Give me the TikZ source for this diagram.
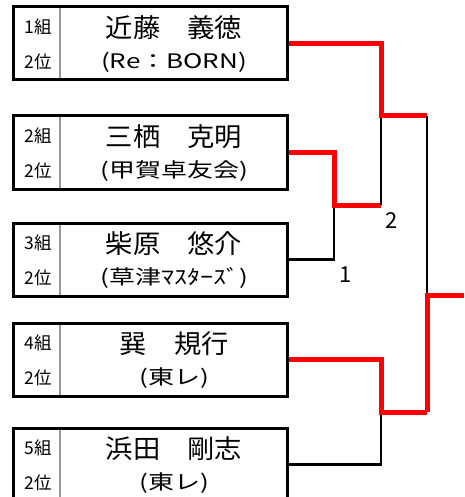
\documentclass[tikz,border=0pt]{standalone}
\usepackage{fontspec}
\setmainfont{Noto Sans CJK JP}
\newcommand\wideT[1]{\scalebox{1.3}[1]{#1}}
\newcommand\wideN[1]{\scalebox{1.05}[1]{#1}}
\begin{document}
\begin{tikzpicture}[x=1pt,y=-1pt,
  pbox/.style={draw=black,line width=3pt,minimum width=274pt,minimum height=73pt,inner sep=0pt},
  divider/.style={draw=gray!80,line width=2.5pt},
  lbl/.style={font=\fontsize{17.5}{17.5}\selectfont,inner sep=0pt,anchor=center},
  pname/.style={font=\fontsize{26}{26}\selectfont,inner sep=0pt,anchor=center},
  team/.style={font=\fontsize{20}{20}\selectfont,inner sep=0pt,anchor=center},
  win/.style={draw=red,line width=5pt},
  lose/.style={draw=black,line width=2.5pt},
  rnum/.style={font=\fontsize{22}{22}\selectfont,inner sep=0pt}]
\useasboundingbox (0,0) rectangle (464,497);
\clip (0,0) rectangle (464,497);
% boxes
\foreach \i/\t in {1/7,2/116,3/223,4/323,5/428}{
  \node[pbox] (b\i) at (150,\t+36.5) {};
  \draw[divider] (60,\t+1.5) -- (60,\t+71.5);
}
% left labels
\foreach \i/\t in {1/7,2/116,3/223,4/323,5/428}{
  \node[lbl] (g\i) at (38,\t+19.5) {\i 組};
  \node[lbl] (p\i) at (38,\t+55) {2位};
}
% names
\node[pname] (n1) at (174,7+21) {\wideN{近藤　義徳}};
\node[team] (t1) at (174,7+55) {\wideT{(Re：BORN)}};
\node[pname] (n2) at (174,116+21) {\wideN{三栖　克明}};
\node[team] (t2) at (174,116+55) {\wideT{(甲賀卓友会)}};
\node[pname] (n3) at (174,223+21) {\wideN{柴原　悠介}};
\node[team] (t3) at (174,223+55) {\wideT{(草津ﾏｽﾀｰｽﾞ)}};
\node[pname] (n4) at (174,323+21) {\wideN{巽　規行}};
\node[team] (t4) at (174,323+55) {\wideT{(東レ)}};
\node[pname] (n5) at (174,428+21) {\wideN{浜田　剛志}};
\node[team] (t5) at (174,428+55) {\wideT{(東レ)}};
% junction coordinates
\coordinate (m1) at (334,205);
\coordinate (m2) at (381,116);
\coordinate (m3) at (381,412);
\coordinate (f) at (427,295);
\coordinate (fe) at (464,295);
% match 1 (b2 vs b3)
\draw[lose] (b3.east) -| (m1);
\draw[win] (b2.east) -| (m1) -- (m1 -| m2);
% match 2 (b1 vs winner 1)
\draw[lose] (m2) -- (m1 -| m2);
\draw[win] (b1.east) -| (m2) -- (m2 -| f);
% match 3 (b4 vs b5)
\draw[lose] (b5.east) -| (m3);
\draw[win] (b4.east) -| (m3) -- (m3 -| f);
% final
\draw[draw=black,line width=2pt] (m2 -| f) -- (f);
\draw[win] (m3 -| f) -- (f) -- (fe);
% numbers
\node[rnum] (l1) at (346,275) {1};
\node[rnum] (l2) at (392,221) {2};
\end{tikzpicture}
\end{document}
